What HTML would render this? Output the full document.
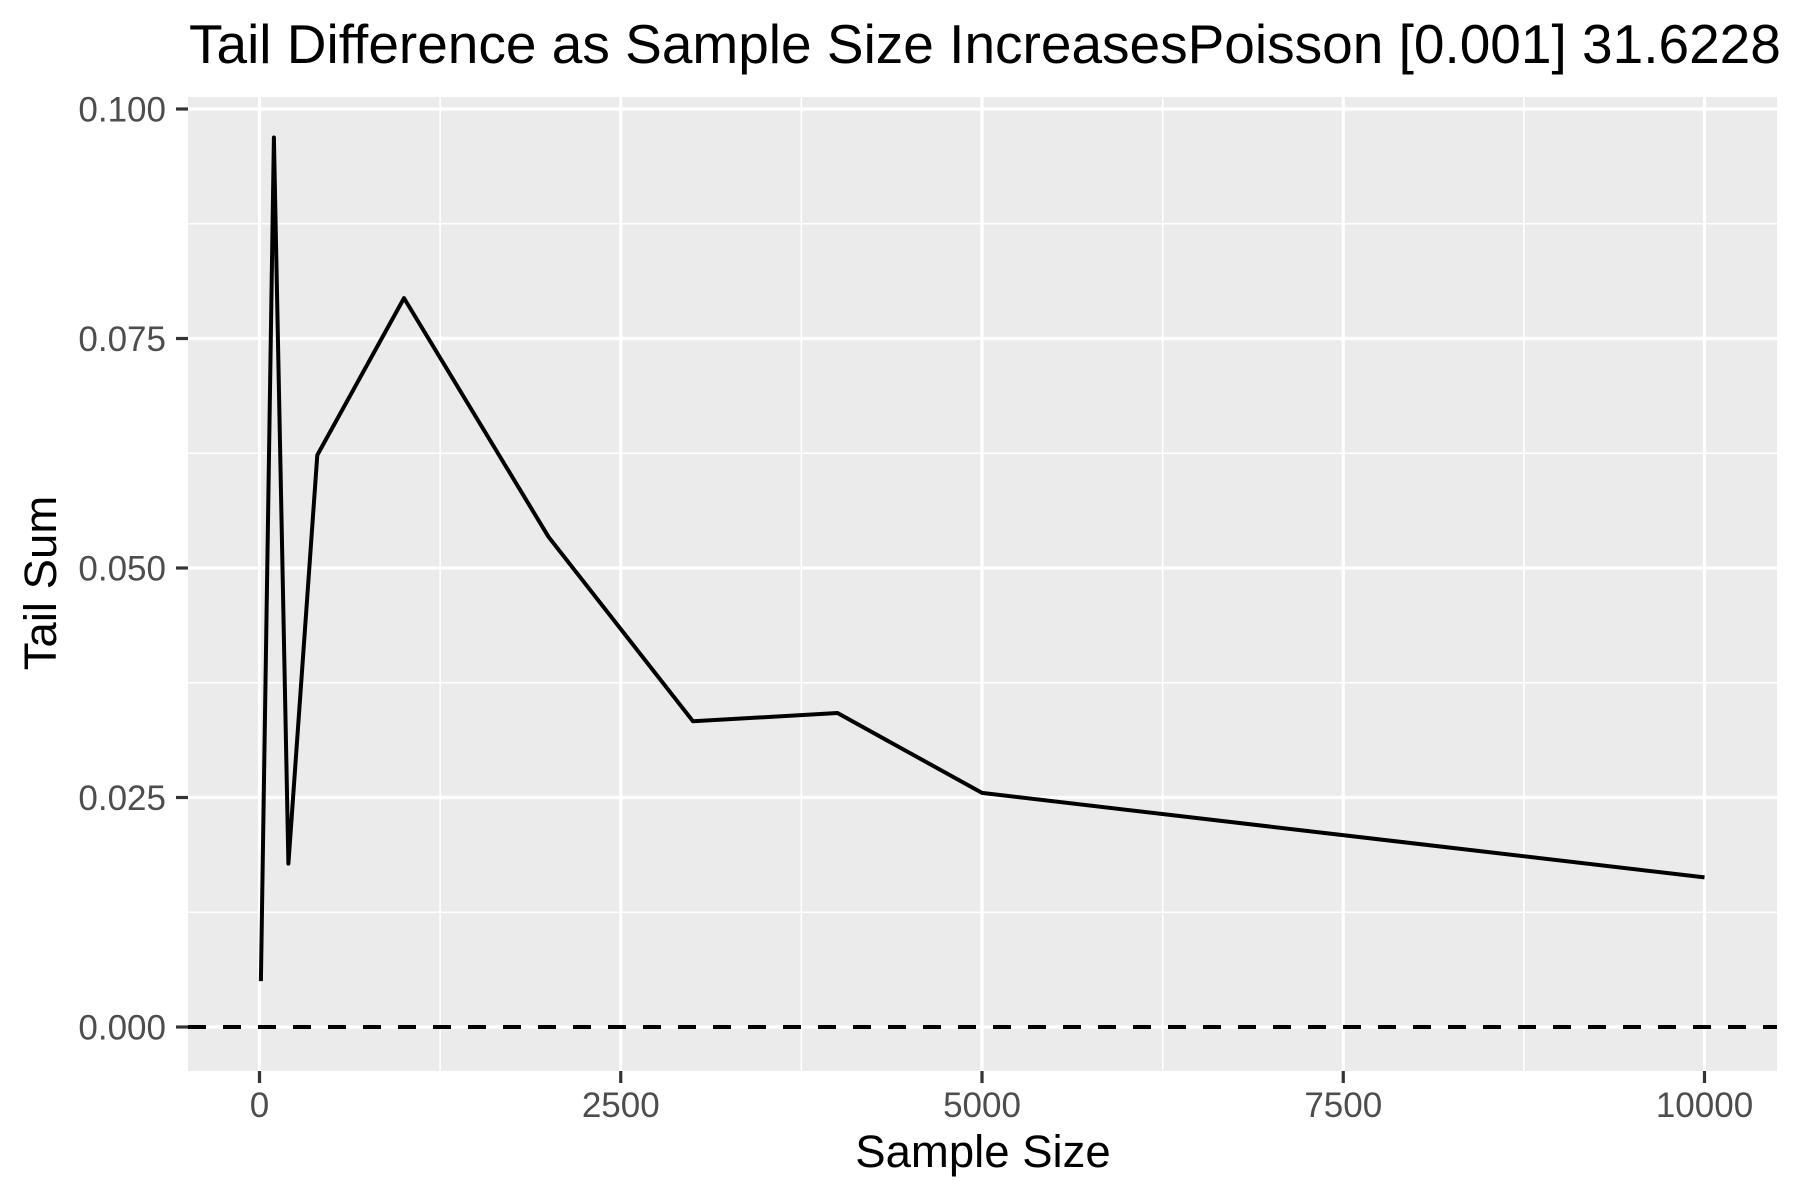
<!DOCTYPE html>
<html><head><meta charset="utf-8"><style>
html,body{margin:0;padding:0;background:#fff;}
svg{display:block;font-family:"Liberation Sans",Arial,sans-serif;}
</style></head><body>
<svg id="chart" width="1800" height="1200" viewBox="0 0 1800 1200" xmlns="http://www.w3.org/2000/svg">
<rect width="1800" height="1200" fill="#fff"/>
<text x="189" y="63" font-size="55" fill="#000">Tail Difference as Sample Size IncreasesPoisson [0.001] 31.6228</text>
<rect x="188" y="97" width="1589" height="974" fill="#ebebeb"/>
<g id="grid"></g>
<g id="marks"></g>
<g id="axes"></g>
<text x="983" y="1167" font-size="45.5" text-anchor="middle" fill="#000">Sample Size</text>
<text transform="translate(56,583) rotate(-90)" font-size="45.5" text-anchor="middle" fill="#000">Tail Sum</text>
</svg>
<script>
const sampleSizes = [10, 100, 200, 400, 1000, 2000, 3000, 4000, 5000, 10000];
const tailSums = [0.0050, 0.0969, 0.0178, 0.0623, 0.0794, 0.0534, 0.0333, 0.0342, 0.0255, 0.0163];
const xTicks = [0, 2500, 5000, 7500, 10000];
const xTickLabels = ["0", "2500", "5000", "7500", "10000"];
const xMinor = [1250, 3750, 6250, 8750];
const yTicks = [0, 0.025, 0.05, 0.075, 0.1];
const yTickLabels = ["0.000", "0.025", "0.050", "0.075", "0.100"];
const yMinor = [0.0125, 0.0375, 0.0625, 0.0875];
const refLine = [0];

const PL = 188, PR = 1777, PT = 97, PB = 1071;
function xs(v){ return 259.5 + v * (1704.5 - 259.5) / 10000; }
function ys(v){ return 1027 - v * (1027 - 109) / 0.1; }
const NS = "http://www.w3.org/2000/svg";
function mk(tag, attrs, parent){
  const e = document.createElementNS(NS, tag);
  for (const k in attrs) e.setAttribute(k, attrs[k]);
  parent.appendChild(e);
  return e;
}
const grid = document.getElementById('grid');
const marks = document.getElementById('marks');
const axes = document.getElementById('axes');

xMinor.forEach(v => {
  const l = mk('line', {x1: xs(v), x2: xs(v), y1: PT, y2: PB, stroke: '#fff', 'stroke-width': 1.6}, grid);
  
  
});
yMinor.forEach(v => {
  const l = mk('line', {x1: PL, x2: PR, y1: ys(v), y2: ys(v), stroke: '#fff', 'stroke-width': 1.6}, grid);
  
  
});
xTicks.forEach((v, i) => {
  const l = mk('line', {x1: xs(v), x2: xs(v), y1: PT, y2: PB, stroke: '#fff', 'stroke-width': 3.2}, grid);
  
  
  const t = mk('line', {x1: xs(v), x2: xs(v), y1: PB, y2: PB + 12, stroke: '#333', 'stroke-width': 3.2}, axes);
  
  
  const tx = mk('text', {x: xs(v), y: 1117, 'font-size': 35, 'text-anchor': 'middle', fill: '#4d4d4d'}, axes);
  tx.textContent = xTickLabels[i];
  
  
});
yTicks.forEach((v, i) => {
  const l = mk('line', {x1: PL, x2: PR, y1: ys(v), y2: ys(v), stroke: '#fff', 'stroke-width': 3.2}, grid);
  
  
  const t = mk('line', {x1: PL - 12, x2: PL, y1: ys(v), y2: ys(v), stroke: '#333', 'stroke-width': 3.2}, axes);
  
  
  const tx = mk('text', {x: 166, y: ys(v) + 12.5, 'font-size': 35, 'text-anchor': 'end', fill: '#4d4d4d'}, axes);
  tx.textContent = yTickLabels[i];
  
  
});
refLine.forEach(v => {
  const l = mk('line', {x1: PL, x2: PR, y1: ys(v), y2: ys(v), stroke: '#000', 'stroke-width': 4, 'stroke-dasharray': '18 17'}, marks);
  
  
});
const pts = sampleSizes.map((s, i) => xs(s).toFixed(1) + ',' + ys(tailSums[i]).toFixed(1)).join(' ');
const pl = mk('polyline', {points: pts, fill: 'none', stroke: '#000', 'stroke-width': 4, 'stroke-linejoin': 'round'}, marks);


</script>
</body></html>
